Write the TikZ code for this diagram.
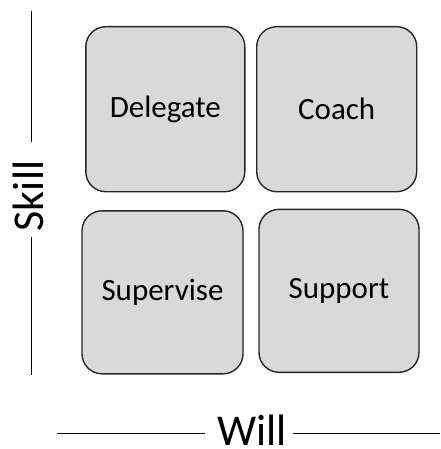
\documentclass[tikz,border=0pt]{standalone}
\usepackage{fontspec}
\setmainfont{Carlito}
\begin{document}
\begin{tikzpicture}[x=1pt,y=-1pt,
  quad/.style={draw=black!85, line width=1.4pt, fill=gray!30, rounded corners=20pt,
    inner sep=0pt, font=\fontsize{31}{36}\selectfont},
  axis/.style={line width=1.3pt, black},
  axislabel/.style={inner sep=0pt, font=\fontsize{44}{52}\selectfont}]
\useasboundingbox (0,0) rectangle (440,449);
\node[quad, minimum width=159pt, minimum height=165pt] (del) at (165.3,109.2) {Delegate};
\node[quad, minimum width=160pt, minimum height=165pt] (coa) at (336.7,109.2) {Coach};
\node[quad, minimum width=161pt, minimum height=163pt] (sup) at (162.5,292.3) {Supervise};
\node[quad, minimum width=160pt, minimum height=163pt] (spt) at (339,290.8) {Support};
\node[axislabel, rotate=90, anchor=base] (skill) at (43,196) {Skill};
\node[axislabel, anchor=base] (will) at (252,445) {Will};
\coordinate (s1) at (31.7,10.7);
\coordinate (s2) at (31.7,141.7);
\coordinate (s3) at (31.7,236.7);
\coordinate (s4) at (31.7,375);
\coordinate (w1) at (56.7,433.3);
\coordinate (w2) at (205,433.3);
\coordinate (w3) at (293,433.3);
\coordinate (w4) at (440,433.3);
\draw[axis] (s1) -- (s2);
\draw[axis] (s3) -- (s4);
\draw[axis] (w1) -- (w2);
\draw[axis] (w3) -- (w4);
\end{tikzpicture}
\end{document}
